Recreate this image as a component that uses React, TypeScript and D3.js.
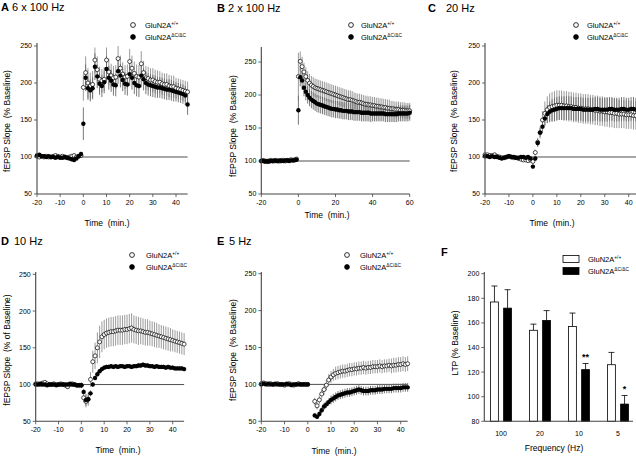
import * as d3 from "d3";

const FONT = "'Liberation Sans', Arial, Helvetica, sans-serif";

// ---- Panel A: 6 x 100 Hz ----
const timeA = d3.range(-20, 46);
const wtA = [
  101, 100, 101, 100, 101, 100, 100, 101, 102, 101, 100, 101, 100, 99, 100, 101, 102, 100, 101, 102,
  194, 214, 200, 196, 198, 231, 218, 205, 203, 205, 231, 215, 210, 207, 208, 233, 220, 212, 208, 209,
  229, 220, 213, 209, 208, 226, 214, 207, 206, 204, 204, 202, 201, 201, 199, 198, 198, 196, 195, 195,
  193, 192, 191, 190, 189, 188,
];
const koA = [
  102, 103, 101, 101, 100, 101, 100, 100, 99, 100, 99, 99, 100, 99, 98, 97, 96, 98, 101, 104,
  145, 207, 193, 190, 193, 222, 209, 199, 196, 201, 219, 207, 203, 198, 197, 216, 210, 204, 199, 198,
  212, 207, 200, 197, 196, 210, 205, 200, 198, 197, 196, 195, 194, 194, 193, 192, 191, 191, 190, 189,
  188, 187, 186, 185, 183, 171,
];
const wtErrA = [
  2, 2, 1, 2, 2, 1, 2, 2, 2, 1, 2, 2, 2, 1, 2, 2, 3, 2, 2, 3,
  18, 22, 20, 18, 18, 17, 18, 17, 16, 16, 17, 18, 16, 16, 16, 17, 17, 16, 16, 16,
  17, 17, 16, 16, 16, 17, 16, 16, 16, 16, 16, 16, 16, 15, 15, 15, 15, 15, 15, 15,
  14, 14, 14, 14, 14, 14,
];
const koErrA = [
  2, 2, 2, 2, 1, 2, 2, 2, 2, 2, 2, 2, 2, 2, 2, 3, 3, 2, 2, 3,
  22, 18, 16, 15, 15, 18, 16, 15, 15, 15, 18, 16, 15, 15, 15, 17, 16, 15, 15, 15,
  16, 16, 15, 15, 15, 16, 15, 15, 15, 15, 15, 15, 14, 14, 14, 14, 14, 14, 14, 14,
  13, 13, 13, 13, 13, 14,
];

// ---- Panel B: 2 x 100 Hz ----
const timeB = d3.range(-20, 61);
const wtB = [
  100, 101, 100, 99, 100, 101, 100, 100, 101, 100, 100, 101, 101, 100, 101, 101, 102, 101, 102, 103,
  228, 251, 243, 235, 228, 222, 218, 215, 213, 211, 210, 209, 208, 207, 206, 205, 204, 203, 202, 201,
  200, 199, 198, 197, 196, 195, 194, 193, 193, 192, 191, 190, 189, 189, 188, 187, 186, 186, 185, 185,
  184, 184, 183, 183, 182, 182, 181, 181, 180, 180, 179, 179, 178, 178, 178, 177, 177, 177, 176, 176,
  176,
];
const koB = [
  100, 100, 99, 100, 99, 100, 100, 101, 100, 100, 101, 100, 100, 101, 101, 100, 101, 101, 101, 102,
  177, 227, 222, 211, 205, 200, 196, 193, 191, 189, 187, 186, 185, 184, 183, 182, 181, 180, 179, 179,
  178, 178, 177, 177, 176, 176, 176, 175, 175, 175, 174, 174, 174, 174, 173, 173, 173, 173, 173, 172,
  172, 172, 172, 172, 172, 172, 172, 171, 171, 171, 171, 171, 171, 171, 172, 172, 172, 172, 172, 172,
  173,
];
const wtErrB = [
  2, 2, 2, 2, 2, 2, 2, 2, 2, 2, 2, 2, 2, 2, 2, 2, 2, 2, 2, 3,
  36, 15, 15, 14, 14, 14, 14, 14, 14, 14, 14, 14, 14, 14, 14, 14, 14, 14, 14, 14,
  14, 14, 14, 14, 14, 14, 14, 14, 14, 14, 13, 13, 13, 13, 13, 13, 13, 13, 13, 13,
  13, 13, 13, 13, 13, 13, 13, 13, 13, 13, 12, 12, 12, 12, 12, 12, 12, 12, 12, 12,
  12,
];
const koErrB = [
  2, 2, 2, 2, 2, 2, 2, 2, 2, 2, 2, 2, 2, 2, 2, 2, 2, 2, 2, 3,
  22, 14, 14, 13, 13, 13, 13, 13, 13, 13, 13, 13, 13, 13, 13, 13, 13, 13, 13, 13,
  13, 13, 13, 13, 13, 13, 13, 13, 13, 13, 13, 13, 13, 13, 13, 13, 13, 13, 13, 13,
  12, 12, 12, 12, 12, 12, 12, 12, 12, 12, 12, 12, 12, 12, 12, 12, 12, 12, 12, 12,
  12,
];

// ---- Panel C: 20 Hz ----
const timeC = d3.range(-20, 46);
const wtC = [
  103, 103, 102, 102, 103, 101, 100, 99, 99, 100, 101, 100, 99, 99, 98, 97, 96, 96, 95, 96,
  94, 106, 120, 133, 150, 159, 164, 167, 168, 169, 170, 170, 170, 169, 169, 168, 168, 167, 167, 166,
  166, 165, 165, 165, 164, 164, 163, 163, 162, 162, 161, 161, 160, 160, 159, 159, 158, 158, 158, 157,
  157, 157, 156, 156, 157, 157,
];
const koC = [
  101, 101, 100, 101, 100, 100, 99, 98, 99, 100, 101, 100, 100, 99, 99, 100, 100, 99, 100, 98,
  87, 98, 119, 133, 141, 152, 158, 161, 163, 164, 165, 166, 166, 166, 166, 166, 166, 165, 165, 165,
  165, 164, 164, 164, 164, 164, 165, 165, 164, 164, 164, 164, 165, 165, 164, 164, 164, 165, 165, 164,
  164, 165, 165, 164, 164, 162,
];
const wtErrC = [
  2, 2, 2, 2, 2, 2, 2, 2, 2, 2, 2, 2, 2, 2, 2, 2, 2, 2, 2, 3,
  3, 4, 6, 8, 12, 16, 18, 19, 20, 20, 20, 20, 20, 20, 20, 20, 20, 20, 20, 20,
  20, 20, 20, 20, 20, 20, 20, 20, 20, 20, 20, 20, 20, 20, 20, 20, 19, 19, 19, 19,
  19, 19, 19, 19, 19, 19,
];
const koErrC = [
  2, 2, 2, 2, 2, 2, 2, 2, 2, 2, 2, 2, 2, 2, 2, 2, 2, 2, 2, 3,
  3, 3, 5, 6, 8, 10, 12, 14, 15, 16, 16, 16, 16, 16, 16, 16, 16, 16, 16, 16,
  16, 16, 16, 16, 16, 16, 16, 16, 16, 16, 16, 16, 16, 16, 16, 16, 16, 16, 16, 16,
  16, 16, 16, 16, 16, 16,
];

// ---- Panel D: 10 Hz ----
const timeD = d3.range(-20, 46);
const wtD = [
  101, 101, 100, 102, 103, 101, 100, 100, 101, 100, 100, 101, 100, 99, 97, 100, 101, 100, 99, 99,
  99, 82, 77, 80, 107, 131, 139, 150, 158, 165, 168, 170, 171, 172, 172, 173, 174, 174, 174, 175,
  175, 176, 177, 175, 174, 173, 173, 172, 171, 171, 170, 169, 168, 167, 166, 165, 164, 163, 162, 161,
  160, 159, 158, 157, 156, 155,
];
const koD = [
  100, 100, 101, 100, 100, 99, 100, 100, 100, 99, 100, 100, 100, 100, 100, 101, 100, 100, 99, 99,
  99, 90, 79, 80, 88, 100, 109, 114, 118, 121, 123, 124, 124, 125, 124, 125, 124, 125, 125, 124,
  125, 125, 124, 125, 125, 126, 126, 127, 126, 126, 125, 125, 124, 125, 124, 124, 124, 123, 124, 123,
  123, 122, 122, 122, 122, 121,
];
const wtErrD = [
  2, 2, 2, 2, 2, 2, 2, 2, 2, 2, 2, 2, 2, 2, 3, 2, 2, 2, 2, 2,
  4, 6, 8, 9, 10, 15, 18, 21, 22, 21, 20, 20, 20, 20, 20, 20, 20, 20, 20, 20,
  20, 20, 20, 19, 19, 19, 18, 18, 18, 18, 17, 17, 17, 17, 16, 16, 16, 16, 16, 16,
  15, 15, 15, 15, 15, 15,
];
const koErrD = [
  2, 2, 2, 2, 2, 2, 2, 2, 2, 2, 2, 2, 2, 2, 2, 2, 2, 2, 2, 2,
  2, 4, 8, 6, 4, 3, 3, 3, 3, 3, 3, 3, 3, 3, 3, 3, 3, 3, 3, 3,
  3, 3, 3, 3, 3, 3, 3, 3, 3, 3, 3, 3, 3, 3, 3, 3, 3, 3, 3, 3,
  3, 3, 3, 3, 3, 3,
];

// ---- Panel E: 5 Hz (no samples during the 3 min train) ----
const timeE = [...d3.range(-20, 1), ...d3.range(3, 44)];
const wtE = [
  101, 102, 101, 100, 101, 100, 100, 101, 100, 100, 99, 100, 101, 100, 99, 100, 101, 100, 100, 100, 100,
  77, 71, 79, 87, 93, 99, 106, 110, 113, 115, 116, 117, 118, 118, 119, 120, 120, 121, 121, 122,
  122, 123, 122, 123, 123, 124, 124, 124, 125, 124, 125, 125, 126, 125, 126, 126, 127, 127, 128, 127,
  128,
];
const koE = [
  100, 101, 100, 101, 100, 100, 101, 100, 100, 100, 100, 101, 100, 99, 100, 100, 100, 100, 100, 100, 100,
  58, 56, 60, 65, 70, 73, 76, 79, 81, 83, 85, 86, 87, 88, 89, 89, 90, 91, 92, 93,
  92, 91, 91, 91, 92, 92, 92, 93, 93, 93, 94, 94, 94, 94, 95, 95, 95, 95, 96, 96,
  96,
];
const wtErrE = [
  1, 1, 1, 1, 1, 1, 1, 1, 1, 1, 1, 1, 1, 1, 1, 1, 1, 1, 1, 1, 1,
  5, 5, 6, 6, 7, 7, 8, 8, 8, 9, 9, 9, 9, 9, 9, 9, 9, 9, 9, 9,
  9, 9, 9, 9, 9, 9, 9, 9, 9, 9, 9, 9, 9, 10, 10, 10, 10, 10, 10, 10,
  10,
];
const koErrE = [
  1, 1, 1, 1, 1, 1, 1, 1, 1, 1, 1, 1, 1, 1, 1, 1, 1, 1, 1, 1, 1,
  3, 3, 4, 4, 5, 5, 5, 6, 6, 6, 6, 6, 6, 6, 6, 6, 6, 6, 6, 6,
  6, 6, 6, 6, 6, 6, 6, 6, 6, 6, 6, 6, 6, 6, 6, 6, 6, 6, 6, 6,
  6,
];

// ---- Panel F: LTP summary ----
const freqs = ["100", "20", "10", "5"];
const ltpWT = [177, 154, 157, 126];
const ltpWTErr = [13, 5, 11, 10];
const ltpKO = [172, 162, 122, 94];
const ltpKOErr = [15, 8, 5, 7];
const ltpSig = ["", "", "**", "*"];

type PanelProps = {
  letter: string;
  title: string;
  letterX: number;
  titleX: number;
  titleY: number;
  px0: number;
  refT: number;
  pxRef: number;
  xMax: number;
  xTicks: number[];
  y50: number;
  y250: number;
  axisTop: number;
  legX: number;
  legTextX: number;
  legY: number;
  yLabel: string;
  yLabelX: number;
  yLabelY: number;
  xLabelX: number;
  xLabelY: number;
  t: number[];
  wt: number[];
  ko: number[];
  wtErr: number[];
  koErr: number[];
};

function Legend({ x, tx, y, box }: { x: number; tx: number; y: number; box?: boolean }) {
  const rows = [
    { sup: "+/+", filled: false },
    { sup: "\u0394C/\u0394C", filled: true },
  ];
  return (
    <g fontFamily={FONT} fontSize={7.5}>
      {rows.map((r, i) => {
        const cy = y + i * 12;
        return (
          <g key={i}>
            {box ? (
              <rect x={x} y={cy - 3.5} width={16} height={7}
                fill={r.filled ? "#000" : "#fff"} stroke="#000" strokeWidth={0.8} />
            ) : (
              <circle cx={x} cy={cy} r={2.4}
                fill={r.filled ? "#000" : "#fff"} stroke="#000" strokeWidth={0.8} />
            )}
            <text x={tx} y={cy + 2.7}>
              GluN2A<tspan fontSize={4.8} dy={-3.2}>{r.sup}</tspan>
            </text>
          </g>
        );
      })}
    </g>
  );
}

function TimePanel(p: PanelProps) {
  const x = d3.scaleLinear().domain([-20, p.refT]).range([p.px0, p.pxRef]);
  const y = d3.scaleLinear().domain([50, 250]).range([p.y50, p.y250]);
  const yTicks = [50, 100, 150, 200, 250];
  const xStart = x(-20);
  const xEnd = x(p.xMax);
  return (
    <g fontFamily={FONT}>
      <text x={p.letterX} y={p.titleY} fontSize={11} fontWeight="bold">{p.letter}</text>
      <text x={p.titleX} y={p.titleY} fontSize={11}>{p.title}</text>
      <Legend x={p.legX} tx={p.legTextX} y={p.legY} />

      {/* baseline reference */}
      <line x1={xStart} x2={xEnd} y1={y(100)} y2={y(100)} stroke="#222" strokeWidth={0.8} />

      {/* error bars */}
      {p.t.map((t, i) => (
        <line key={"we" + i} x1={x(t)} x2={x(t)} y1={y(p.wt[i] - p.wtErr[i])} y2={y(p.wt[i] + p.wtErr[i])}
          stroke="#8f8f8f" strokeWidth={0.9} />
      ))}
      {p.t.map((t, i) => (
        <line key={"ke" + i} x1={x(t)} x2={x(t)} y1={y(p.ko[i] - p.koErr[i])} y2={y(p.ko[i] + p.koErr[i])}
          stroke="#6a6a6a" strokeWidth={0.9} />
      ))}

      {/* points */}
      {p.t.map((t, i) => (
        <circle key={"w" + i} cx={x(t)} cy={y(p.wt[i])} r={2} fill="#fff" stroke="#000" strokeWidth={0.7} />
      ))}
      {p.t.map((t, i) => (
        <circle key={"k" + i} cx={x(t)} cy={y(p.ko[i])} r={2.2} fill="#000" />
      ))}

      {/* axes */}
      <line x1={xStart} x2={xStart} y1={y(50)} y2={p.axisTop} stroke="#444" strokeWidth={1.1} />
      <line x1={xStart} x2={xEnd} y1={y(50)} y2={y(50)} stroke="#444" strokeWidth={1.1} />
      {yTicks.map((v) => (
        <g key={"yt" + v}>
          <line x1={xStart - 3} x2={xStart} y1={y(v)} y2={y(v)} stroke="#444" strokeWidth={0.8} />
          <text x={xStart - 5} y={y(v)} dy="0.35em" textAnchor="end" fontSize={7}>{v}</text>
        </g>
      ))}
      {p.xTicks.map((v) => (
        <g key={"xt" + v}>
          <line x1={x(v)} x2={x(v)} y1={y(50)} y2={y(50) + 3} stroke="#444" strokeWidth={0.8} />
          <text x={x(v)} y={y(50) + 11} textAnchor="middle" fontSize={7}>{v}</text>
        </g>
      ))}
      <text transform={`translate(${p.yLabelX},${p.yLabelY}) rotate(-90)`} textAnchor="middle"
        dy="0.35em" fontSize={8.5} style={{ whiteSpace: "pre" }}>{p.yLabel}</text>
      <text x={p.xLabelX} y={p.xLabelY} textAnchor="middle" fontSize={8.5}
        style={{ whiteSpace: "pre" }}>{"Time  (min.)"}</text>
    </g>
  );
}

function BarPanel() {
  const y = d3.scaleLinear().domain([80, 200]).range([421.3, 273.7]);
  const x0 = d3.scaleBand().domain(freqs).range([481.5, 637.5]);
  const x1 = d3.scaleBand().domain(["wt", "ko"]).range([9, 30]).paddingInner(0.4);
  const axisX = 484.3;
  const bw = x1.bandwidth();
  return (
    <g fontFamily={FONT}>
      <text x={441} y={256} fontSize={11} fontWeight="bold">F</text>
      <Legend x={563} tx={588} y={259} box />
      {freqs.map((f, i) => {
        const gx = x0(f) ?? 0;
        const bars = [
          { key: "wt", v: ltpWT[i], e: ltpWTErr[i], fill: "#fff" },
          { key: "ko", v: ltpKO[i], e: ltpKOErr[i], fill: "#000" },
        ];
        return (
          <g key={f}>
            {bars.map((b) => {
              const bx = gx + (x1(b.key) ?? 0);
              const cx = bx + bw / 2;
              return (
                <g key={b.key}>
                  <line x1={cx} x2={cx} y1={y(b.v)} y2={y(b.v + b.e)} stroke="#000" strokeWidth={0.8} />
                  <line x1={cx - 3} x2={cx + 3} y1={y(b.v + b.e)} y2={y(b.v + b.e)} stroke="#000" strokeWidth={0.8} />
                  <rect x={bx} y={y(b.v)} width={bw} height={y(80) - y(b.v)} fill={b.fill}
                    stroke="#000" strokeWidth={0.8} />
                </g>
              );
            })}
            {ltpSig[i] && (
              <text x={gx + (x1("ko") ?? 0) + bw / 2} y={y(ltpKO[i] + ltpKOErr[i]) - 3}
                textAnchor="middle" fontSize={9} fontWeight="bold">{ltpSig[i]}</text>
            )}
            <text x={gx + 19.5} y={436} textAnchor="middle" fontSize={7}>{f}</text>
          </g>
        );
      })}
      <line x1={axisX} x2={axisX} y1={y(80)} y2={272} stroke="#444" strokeWidth={1.1} />
      <line x1={axisX} x2={633} y1={y(80)} y2={y(80)} stroke="#444" strokeWidth={1.1} />
      {d3.range(80, 201, 20).map((v) => (
        <g key={v}>
          <line x1={axisX - 3} x2={axisX} y1={y(v)} y2={y(v)} stroke="#444" strokeWidth={0.8} />
          <text x={axisX - 5} y={y(v)} dy="0.35em" textAnchor="end" fontSize={7}>{v}</text>
        </g>
      ))}
      <text transform="translate(455,343) rotate(-90)" textAnchor="middle" dy="0.35em" fontSize={8.5}>
        LTP (% Baseline)
      </text>
      <text x={554} y={451} textAnchor="middle" fontSize={8.5}>Frequency (Hz)</text>
    </g>
  );
}

export default function App() {
  const ticks = [-20, -10, 0, 10, 20, 30, 40];
  return (
    <div style={{ position: "absolute", left: 0, top: 0 }}>
      <svg width={636} height={457} style={{ display: "block", background: "#fff" }}>
        <TimePanel letter="A" title="6 x 100 Hz" letterX={1} titleX={12} titleY={11}
          px0={37} refT={40} pxRef={176} xMax={45} xTicks={ticks} y50={194} y250={46} axisTop={43}
          legX={133} legTextX={145} legY={25}
          yLabel={"fEPSP Slope  (% Baseline)"} yLabelX={7} yLabelY={121} xLabelX={107} xLabelY={226}
          t={timeA} wt={wtA} ko={koA} wtErr={wtErrA} koErr={koErrA} />
        <TimePanel letter="B" title="2 x 100 Hz" letterX={217} titleX={228} titleY={12}
          px0={261.3} refT={60} pxRef={409.7} xMax={60} xTicks={[-20, 0, 20, 40, 60]} y50={194} y250={62} axisTop={47}
          legX={351} legTextX={361} legY={25}
          yLabel={"fEPSP Slope  (% Baseline)"} yLabelX={233} yLabelY={126} xLabelX={327} xLabelY={218}
          t={timeB} wt={wtB} ko={koB} wtErr={wtErrB} koErr={koErrB} />
        <TimePanel letter="C" title="20 Hz" letterX={428} titleX={446} titleY={12}
          px0={485} refT={40} pxRef={628.7} xMax={45} xTicks={ticks} y50={194} y250={46} axisTop={43}
          legX={576} legTextX={587} legY={25}
          yLabel={"fEPSP Slope  (% Baseline)"} yLabelX={454} yLabelY={121} xLabelX={552} xLabelY={226}
          t={timeC} wt={wtC} ko={koC} wtErr={wtErrC} koErr={koErrC} />
        <TimePanel letter="D" title="10 Hz" letterX={1} titleX={14} titleY={245}
          px0={35.7} refT={40} pxRef={172.7} xMax={45} xTicks={ticks} y50={421.3} y250={274.3} axisTop={272}
          legX={132} legTextX={146} legY={255}
          yLabel={"fEPSP Slope  (% of Baseline)"} yLabelX={7} yLabelY={350} xLabelX={118} xLabelY={453}
          t={timeD} wt={wtD} ko={koD} wtErr={wtErrD} koErr={koErrD} />
        <TimePanel letter="E" title="5 Hz" letterX={217} titleX={229} titleY={245}
          px0={261.3} refT={40} pxRef={400.7} xMax={43} xTicks={ticks} y50={421.3} y250={273.7} axisTop={272}
          legX={347} legTextX={360} legY={255}
          yLabel={"fEPSP Slope  (% Baseline)"} yLabelX={233} yLabelY={350} xLabelX={334} xLabelY={454}
          t={timeE} wt={wtE} ko={koE} wtErr={wtErrE} koErr={koErrE} />
        <BarPanel />
      </svg>
    </div>
  );
}
